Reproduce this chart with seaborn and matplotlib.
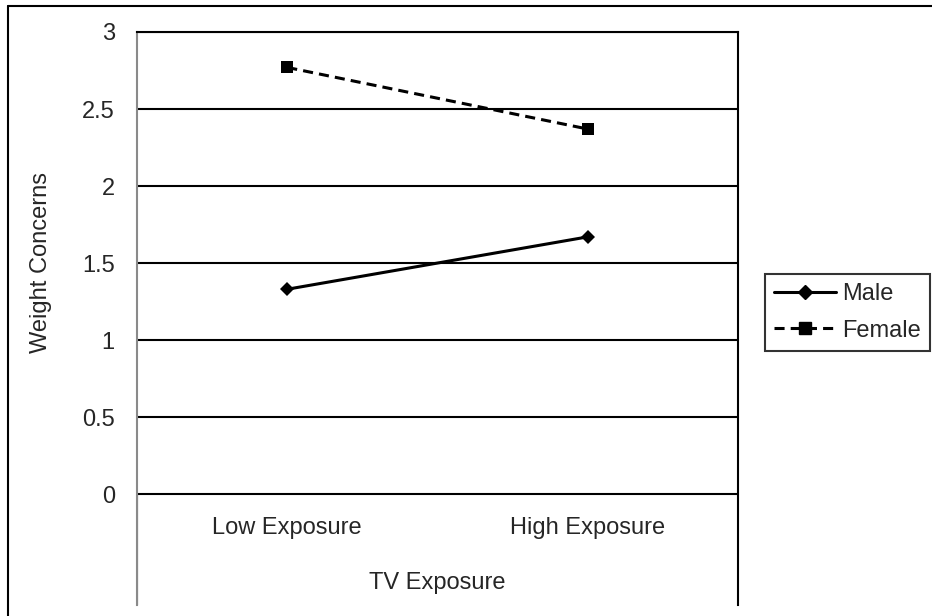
import pandas as pd
import seaborn as sns
import matplotlib.pyplot as plt
from matplotlib.lines import Line2D

# data
exposure = ['Low Exposure', 'High Exposure']
male = [1.33, 1.67]
female = [2.77, 2.37]
y_ticks = [0, 0.5, 1, 1.5, 2, 2.5, 3]
y_tick_labels = ['0', '0.5', '1', '1.5', '2', '2.5', '3']

df = pd.DataFrame({
    'exposure': exposure * 2,
    'concern': male + female,
    'gender': ['Male'] * len(male) + ['Female'] * len(female),
})

sns.set_style('white')
plt.rcParams['font.family'] = ['Liberation Sans', 'DejaVu Sans']

fig = plt.figure(figsize=(9.32, 6.16), dpi=100)
W, H = 932, 616
ax = fig.add_axes([137 / W, 1 - 605 / H, (738 - 137) / W, (605 - 32) / H])

sns.lineplot(data=df, x='exposure', y='concern', hue='gender', style='gender',
             palette={'Male': 'black', 'Female': 'black'},
             markers={'Male': 'D', 'Female': 's'},
             dashes={'Male': '', 'Female': (3.3, 2)},
             linewidth=2.2, markeredgewidth=0, ax=ax, legend=False)
for line in ax.lines:
    if line.get_marker() == 'D':
        line.set_markersize(7)
    else:
        line.set_markersize(9)

ax.set_xlim(-0.5, 1.5)
ax.set_ylim(-0.72, 3)
ax.set_yticks(y_ticks, y_tick_labels)
ax.set_xticks([])
ax.set_xlabel('')
ax.set_ylabel('Weight Concerns', fontsize=17)
ax.yaxis.set_label_coords((52 - 137) / 601, (605 - 263) / 573)
ax.yaxis.grid(True, color='black', linewidth=1.5)
ax.tick_params(axis='y', length=0, pad=16, labelsize=17)

for side in ['top', 'right', 'left']:
    ax.spines[side].set_color('black')
    ax.spines[side].set_linewidth(1.5)
ax.spines['left'].set_color('#8a8a8a')
ax.spines['bottom'].set_visible(False)
# black part of the left border below zero
ax.axvline(-0.5, ymin=0, ymax=0.72 / 3.72, color='black', linewidth=1.5)

# category labels and axis title sit inside the lower plot area
for i, lab in enumerate(exposure):
    ax.text(i, -0.22, lab, ha='center', va='center', fontsize=17)
ax.text(0.5, (605 - 583) / (605 - 32), 'TV Exposure', transform=ax.transAxes,
        ha='center', va='center', fontsize=17)

handles = [
    Line2D([], [], color='black', linewidth=2.2, marker='D', markersize=7),
    Line2D([], [], color='black', linewidth=2.2, marker='s', markersize=9,
           dashes=(3.3, 2)),
]
leg = fig.legend(handles, ['Male', 'Female'], loc='upper left',
                 bbox_to_anchor=(765 / W, 1 - 274 / H), borderaxespad=0,
                 fontsize=17, frameon=True, fancybox=False, handlelength=2.6,
                 handletextpad=0.25, labelspacing=0.6, borderpad=0.4)
leg.get_frame().set_edgecolor('black')
leg.get_frame().set_linewidth(1.5)

# outer chart border, only the left and top edges are in view
fig.add_artist(Line2D([8 / W, 8 / W], [0, 1 - 6 / H], color='black',
                      linewidth=1.5, transform=fig.transFigure))
fig.add_artist(Line2D([8 / W, 1], [1 - 6 / H, 1 - 6 / H], color='black',
                      linewidth=1.5, transform=fig.transFigure))

fig.savefig('out.png', dpi=100)
